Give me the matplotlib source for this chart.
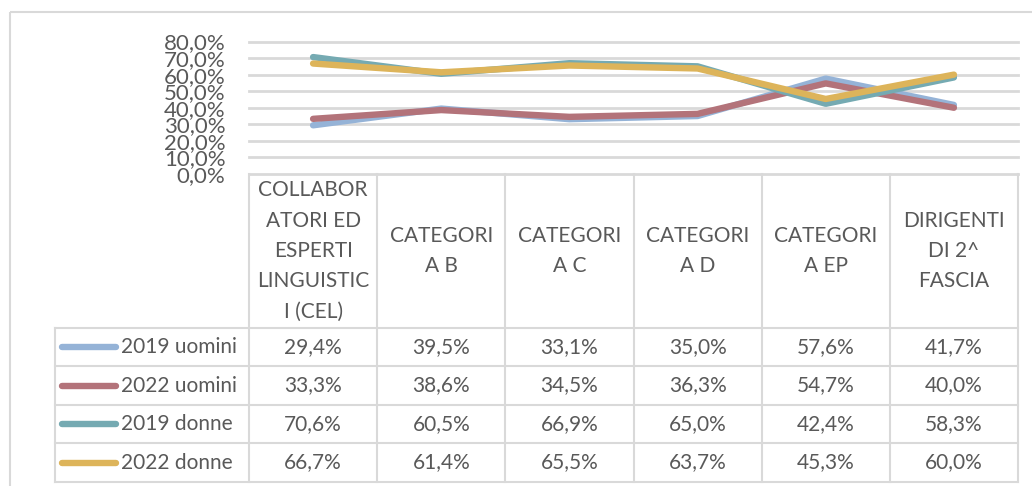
import matplotlib.pyplot as plt

plt.rcParams['font.family'] = ['Lato', 'DejaVu Sans']

# dati
categorie = ["COLLABOR\nATORI ED\nESPERTI\nLINGUISTIC\nI (CEL)", "CATEGORI\nA B", "CATEGORI\nA C",
             "CATEGORI\nA D", "CATEGORI\nA EP", "DIRIGENTI\nDI 2^\nFASCIA"]
serie = ["2019 uomini", "2022 uomini", "2019 donne", "2022 donne"]
uomini_2019 = [0.294, 0.395, 0.331, 0.350, 0.576, 0.417]
uomini_2022 = [0.333, 0.386, 0.345, 0.363, 0.547, 0.400]
donne_2019 = [0.706, 0.605, 0.669, 0.650, 0.424, 0.583]
donne_2022 = [0.667, 0.614, 0.655, 0.637, 0.453, 0.600]
valori = [uomini_2019, uomini_2022, donne_2019, donne_2022]
colori = ["#95B3D7", "#B3737A", "#75AAB2", "#DDB45A"]

grigio = "#D9D9D9"
testo = "#595959"

W, H = 1032, 486
fig = plt.figure(figsize=(W / 100, H / 100), dpi=100)

# pixel layout
x0, x1 = 249, 1018
y_top, y_bot = 41.5, 174
t_left = 55
righe = [174, 328, 366, 405, 443, 482]

# sfondo per bordo e tabella (coordinate in pixel)
bg = fig.add_axes([0, 0, 1, 1], zorder=0)
bg.set_xlim(0, W)
bg.set_ylim(H, 0)
bg.axis('off')
bg.add_patch(plt.Rectangle((10, 12), W + 20, H + 20, fill=False, ec=grigio, lw=1.5))

ax = fig.add_axes([x0 / W, 1 - y_bot / H, (x1 - x0) / W, (y_bot - y_top) / H], zorder=1)
ax.patch.set_visible(False)
n = len(categorie)
ax.set_xlim(-0.5, n - 0.5)
ax.set_ylim(0, 0.8)
yt = [i / 10 for i in range(9)]
ax.set_yticks(yt)
ax.set_yticklabels([f"{v * 100:.1f}%".replace('.', ',') for v in yt], fontsize=16, color=testo)
ax.tick_params(axis='y', length=0, pad=17)
ax.set_xticks([])
for s in ax.spines.values():
    s.set_visible(False)
for v in yt:
    ax.axhline(v, color=grigio, lw=2, zorder=0, clip_on=False)

for vals, col in zip(valori, colori):
    ax.plot(range(n), vals, color=col, lw=4.6, solid_capstyle='round',
            solid_joinstyle='round', zorder=3)

# tabella
col_w = (x1 - x0) / n
bordi_x = [x0 + i * col_w for i in range(n + 1)]
for bx in bordi_x:
    bg.plot([bx, bx], [righe[0], righe[-1]], color=grigio, lw=1.5)
bg.plot([t_left, t_left], [righe[1], righe[-1]], color=grigio, lw=1.5)
for ry in righe[1:]:
    bg.plot([t_left, x1], [ry, ry], color=grigio, lw=1.5)

for i, cat in enumerate(categorie):
    cx = x0 + (i + 0.5) * col_w
    bg.text(cx, (righe[0] + righe[1]) / 2, cat, ha='center', va='center',
            fontsize=15, color=testo, linespacing=1.65)

for r, (nome, vals, col) in enumerate(zip(serie, valori, colori)):
    cy = (righe[r + 1] + righe[r + 2]) / 2
    bg.plot([62, 116], [cy, cy], color=col, lw=4.6, solid_capstyle='round')
    bg.text(121, cy, nome, ha='left', va='center', fontsize=15, color=testo)
    for i, v in enumerate(vals):
        cx = x0 + (i + 0.5) * col_w
        bg.text(cx, cy, f"{v * 100:.1f}%".replace('.', ','), ha='center', va='center',
                fontsize=15, color=testo)

fig.savefig("out.png", dpi=100)
